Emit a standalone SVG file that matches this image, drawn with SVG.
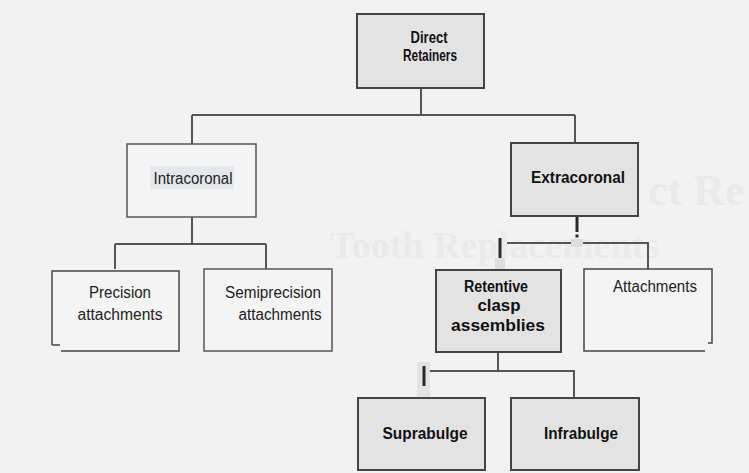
<svg xmlns="http://www.w3.org/2000/svg" width="749" height="473" viewBox="0 0 749 473">
<style>
.bg{fill:#f2f2f2}
.ghost{fill:#eaeaea;font-family:"Liberation Serif",serif;font-weight:bold}
.gray{fill:#e3e3e3;stroke:#444;stroke-width:2}
.white{fill:#f4f4f4;stroke:#555;stroke-width:1.5}
.edge{fill:none;stroke:#444;stroke-width:1.5}
.con{fill:none;stroke:#555;stroke-width:2}
.mark{stroke:#2a2a2a;stroke-width:3}
.patch{fill:#dedede}
.t{font-family:"Liberation Sans",Arial,sans-serif;font-size:16px;fill:#222;text-anchor:middle}
.b{font-weight:bold;fill:#111}
</style>
<rect class="bg" x="0" y="0" width="749" height="473"/>
<g id="ghost">
<text class="ghost" x="648" y="205" font-size="44">ct Re</text>
<text class="ghost" x="330" y="258" font-size="38">Tooth Replacements</text>
</g>
<g id="connectors">
<path class="con" d="M421 88V115M192 115H575M192 115V144M575 115V143"/>
<path class="con" d="M192 217V244M115 244H266M115 244V269M266 244V269"/>
<path class="con" d="M507 243H648V269M500 243V270"/>
<line class="mark" x1="577" y1="216" x2="577" y2="232"/>
<rect x="575.5" y="234.5" width="3" height="3" fill="#2a2a2a"/>
<rect class="patch" x="571" y="239" width="12" height="8"/>
<line class="mark" x1="500" y1="238" x2="500" y2="258"/>
<rect class="patch" x="495" y="258" width="10" height="12"/>
<path class="con" d="M498 352V371M430 371H574V398"/>
<rect x="417" y="362" width="13" height="38" fill="#e3e3e3"/>
<line class="mark" x1="424" y1="366" x2="424" y2="386"/>
</g>
<g id="direct-retainers">
<rect class="gray" x="357" y="14" width="127" height="74"/>
<text class="t b" x="429" y="43" font-size="17" textLength="37" lengthAdjust="spacingAndGlyphs">Direct</text>
<text class="t b" x="430" y="61" font-size="17" textLength="54" lengthAdjust="spacingAndGlyphs">Retainers</text>
</g>
<g id="intracoronal">
<rect class="white" x="127" y="144" width="129" height="73"/>
<rect x="150" y="166" width="84" height="23" fill="#e4e8ec"/>
<text class="t" x="193" y="184" textLength="79" lengthAdjust="spacingAndGlyphs">Intracoronal</text>
</g>
<g id="extracoronal">
<rect class="gray" x="511" y="143" width="127" height="73"/>
<text class="t b" x="578" y="183" textLength="94" lengthAdjust="spacingAndGlyphs">Extracoronal</text>
</g>
<g id="precision-attachments">
<path d="M52 271H179V351H61V345H52Z" fill="#f4f4f4"/>
<path class="edge" d="M52 345V271H179V351H61M52 345H60"/>
<text class="t" x="120" y="298" textLength="62" lengthAdjust="spacingAndGlyphs">Precision</text>
<text class="t" x="120" y="320" textLength="85" lengthAdjust="spacingAndGlyphs">attachments</text>
</g>
<g id="semiprecision-attachments">
<rect class="white" x="204" y="269" width="128" height="82"/>
<text class="t" x="273" y="298" textLength="96" lengthAdjust="spacingAndGlyphs">Semiprecision</text>
<text class="t" x="280" y="320" textLength="83" lengthAdjust="spacingAndGlyphs">attachments</text>
</g>
<g id="retentive-clasp-assemblies">
<rect class="gray" x="436" y="270" width="125" height="82"/>
<text class="t b" x="496" y="292" font-size="17" textLength="64" lengthAdjust="spacingAndGlyphs">Retentive</text>
<text class="t b" x="499" y="311" font-size="17" textLength="43" lengthAdjust="spacingAndGlyphs">clasp</text>
<text class="t b" x="498" y="331" font-size="17" textLength="94" lengthAdjust="spacingAndGlyphs">assemblies</text>
</g>
<g id="attachments">
<path d="M584 269H712V343H705V351H584Z" fill="#f4f4f4"/>
<path class="edge" d="M705 351H584V269H712V343H708"/>
<text class="t" x="655" y="292" textLength="84" lengthAdjust="spacingAndGlyphs">Attachments</text>
</g>
<g id="suprabulge">
<rect class="gray" x="358" y="398" width="127" height="72"/>
<text class="t b" x="425" y="439" font-size="17" textLength="85" lengthAdjust="spacingAndGlyphs">Suprabulge</text>
</g>
<g id="infrabulge">
<rect class="gray" x="511" y="398" width="128" height="72"/>
<text class="t b" x="581" y="439" font-size="17" textLength="74" lengthAdjust="spacingAndGlyphs">Infrabulge</text>
</g>
</svg>
